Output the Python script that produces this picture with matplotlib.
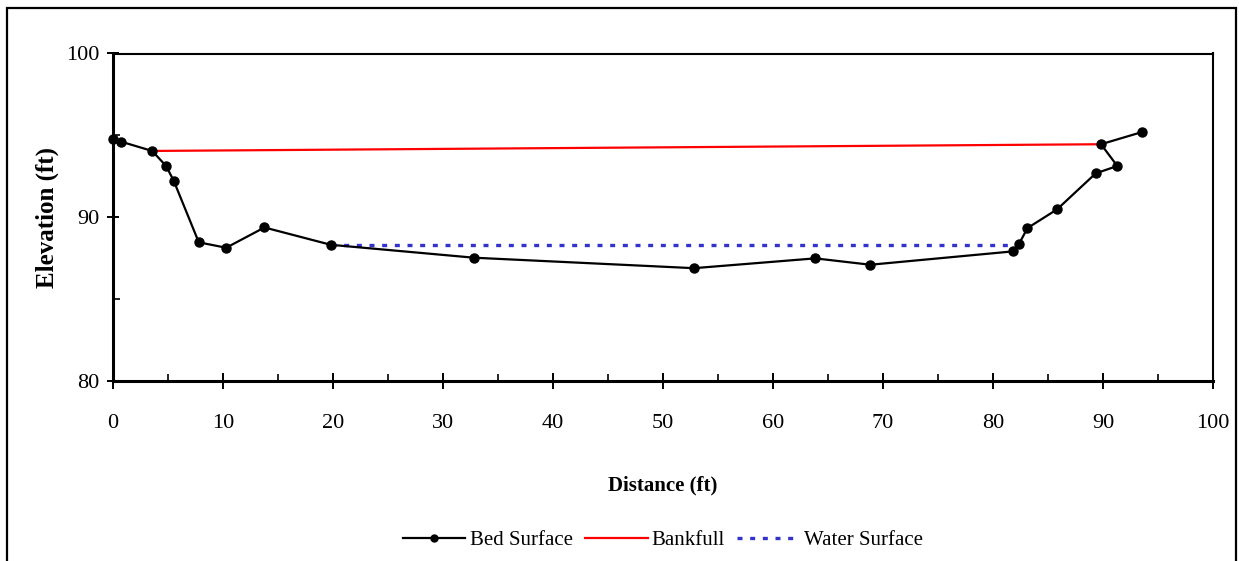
import matplotlib
matplotlib.use('Agg')
import matplotlib.pyplot as plt
from matplotlib.patches import Rectangle
from matplotlib.ticker import MultipleLocator

plt.rcParams['font.family'] = ['Liberation Serif', 'DejaVu Serif']

# 河床断面数据
bed_x = [0, 0.77, 3.56, 4.83, 5.53, 7.8, 10.29, 13.77, 19.8, 32.82, 52.81,
         63.84, 68.85, 81.86, 82.34, 83.13, 85.83, 89.34, 91.3, 89.82, 93.57]
bed_y = [94.8, 94.6, 94.04, 93.12, 92.2, 88.45, 88.12, 89.36, 88.3, 87.51, 86.87,
         87.47, 87.08, 87.9, 88.32, 89.32, 90.47, 92.67, 93.12, 94.45, 95.2]

bankfull_x = [3.56, 89.82]
bankfull_y = [94.04, 94.45]

water_x = [19.8, 82.34]
water_y = [88.3, 88.3]

x_ticks = list(range(0, 101, 10))
y_ticks = [80, 90, 100]

fig = plt.figure(figsize=(12.39, 5.61), dpi=100)
ax = fig.add_axes([113 / 1239, 1 - 380.5 / 561, 1100 / 1239, 327 / 561])

ax.plot(bed_x, bed_y, color='black', linewidth=1.6, marker='o', markersize=6.5,
        label='Bed Surface', clip_on=False, zorder=3)
ax.plot(bankfull_x, bankfull_y, color='#ff0000', linewidth=1.6, label='Bankfull', zorder=2)
ax.plot(water_x, water_y, color='#3333cc', linewidth=2.4, dashes=(1.5, 2.3),
        dash_capstyle='butt', label='Water Surface', zorder=2)

ax.set_xlim(0, 100)
ax.set_ylim(80, 100)
ax.set_xticks(x_ticks)
ax.set_yticks(y_ticks)
ax.xaxis.set_minor_locator(MultipleLocator(5))
ax.yaxis.set_minor_locator(MultipleLocator(5))

ax.tick_params(axis='x', which='major', direction='inout', length=12, width=1.4,
               pad=18, labelsize=16)
ax.tick_params(axis='y', which='major', direction='inout', length=9, width=1.4,
               pad=5, labelsize=16)
ax.tick_params(which='minor', direction='in', length=5, width=1.2)

for side in ['left', 'bottom']:
    ax.spines[side].set_linewidth(2.2)
for side in ['top', 'right']:
    ax.spines[side].set_linewidth(1.5)

ax.set_xlabel('Distance (ft)', fontsize=15, fontweight='bold')
ax.set_ylabel('Elevation (ft)', fontsize=18, fontweight='bold')
ax.xaxis.set_label_coords(0.5, -0.29)
ax.yaxis.set_label_coords(-0.049, 0.5)

leg = fig.legend(loc='center', bbox_to_anchor=(663 / 1239, 1 - 540 / 561), ncol=3,
                 frameon=False, fontsize=15, handlelength=3.0, handletextpad=0.2,
                 columnspacing=0.6)
leg.get_lines()[0].set_markersize(5)

# 外边框
fig.patches.append(Rectangle((7 / 1239, -0.05), 1229 / 1239, 1.05 - 7.5 / 561,
                             transform=fig.transFigure, fill=False,
                             edgecolor='black', linewidth=1.6))

fig.savefig('out.png', dpi=100)
